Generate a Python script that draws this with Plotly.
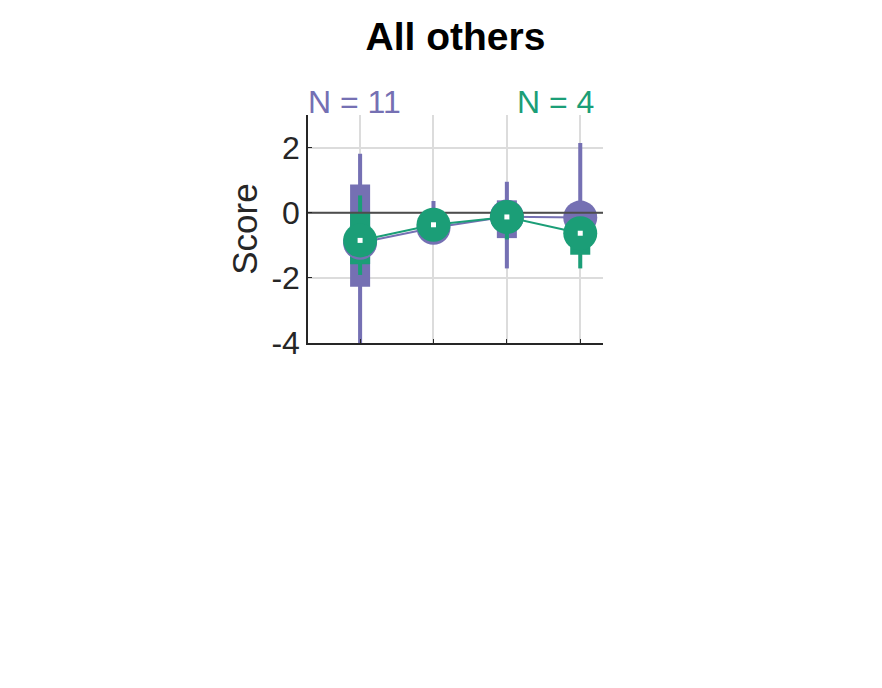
import plotly.graph_objects as go

# ---- data ----
positions = [1, 2, 3, 4]
purple_mean = [-0.92, -0.46, -0.12, -0.15]
purple_q1 = [-2.27, -0.75, -0.78, -0.70]
purple_q3 = [0.87, -0.15, 0.38, 0.20]
purple_lo = [-4.6, -0.90, -1.71, -1.20]
purple_hi = [1.81, 0.36, 0.95, 2.14]

green_mean = [-0.85, -0.37, -0.13, -0.63]
green_q1 = [-1.58, -0.60, -0.45, -1.29]
green_q3 = [0.00, -0.15, 0.15, -0.40]
green_lo = [-1.91, -0.75, -0.82, -1.71]
green_hi = [0.53, 0.05, 0.30, -0.20]

n_labels = ["N = 11", "N = 4"]
yticks = [-4, -2, 0, 2]
title_text = "All others"
ylabel = "Score"

PURPLE = "#7570b3"
GREEN = "#1b9e77"
FONT = "Liberation Sans, Arial, sans-serif"
XR = [0.29, 4.31]

BOX_W = 0.273
WHISK_W = 0.055


def bar(lo, hi, width, color):
    return go.Bar(
        x=positions,
        y=[h - l for l, h in zip(lo, hi)],
        base=lo,
        width=[width] * len(positions),
        marker=dict(color=color, line=dict(width=0)),
        showlegend=False,
        hoverinfo="skip",
    )


fig = go.Figure()
fig.add_trace(bar(purple_lo, purple_hi, WHISK_W, PURPLE))
fig.add_trace(bar(purple_q1, purple_q3, BOX_W, PURPLE))
fig.add_trace(bar(green_lo, green_hi, WHISK_W, GREEN))
fig.add_trace(bar(green_q1, green_q3, BOX_W, GREEN))

fig.add_trace(go.Scatter(
    x=positions, y=purple_mean, mode="lines+markers",
    line=dict(color=PURPLE, width=2),
    marker=dict(size=34, color=PURPLE, line=dict(width=0)),
    showlegend=False, hoverinfo="skip"))

fig.add_trace(go.Scatter(
    x=XR, y=[0, 0], mode="lines",
    line=dict(color="#4d4d4d", width=2),
    showlegend=False, hoverinfo="skip"))

fig.add_trace(go.Scatter(
    x=positions, y=green_mean, mode="lines+markers",
    line=dict(color=GREEN, width=2),
    marker=dict(size=34, color=GREEN, line=dict(width=0)),
    showlegend=False, hoverinfo="skip"))

fig.add_trace(go.Scatter(
    x=positions, y=green_mean, mode="markers",
    marker=dict(size=5, color="white", symbol="square", line=dict(width=0)),
    showlegend=False, hoverinfo="skip"))

fig.update_layout(
    width=882, height=688,
    margin=dict(l=300, r=287, t=107, b=353),
    paper_bgcolor="white", plot_bgcolor="white",
    barmode="overlay",
    font=dict(family=FONT, color="#262626"),
    title=dict(text="<b>" + title_text + "</b>", x=0.5, xref="paper",
               xanchor="center", y=1 - 28 / 688, yanchor="middle",
               font=dict(size=39, color="black", family=FONT)),
    xaxis=dict(range=XR, tickvals=positions, showticklabels=False,
               showgrid=True, gridcolor="#dcdcdc", gridwidth=1.5,
               zeroline=False, showline=True, linecolor="#262626",
               linewidth=1.5, ticks="inside", ticklen=4,
               tickcolor="#262626", fixedrange=True),
    yaxis=dict(range=[-4, 3], tickvals=yticks,
               ticktext=[str(v) for v in yticks],
               tickfont=dict(size=32, color="#262626", family=FONT),
               showgrid=True, gridcolor="#dcdcdc", gridwidth=1.5,
               zeroline=False, showline=True, linecolor="#262626",
               linewidth=1.5, ticks="inside", ticklen=4,
               tickcolor="#262626",
               title=dict(text=ylabel, standoff=3,
                          font=dict(size=35, color="#262626", family=FONT)),
               fixedrange=True),
)

fig.add_annotation(text=n_labels[0], xref="paper", yref="paper", x=0, y=1,
                   xanchor="left", yanchor="middle", yshift=13, xshift=-2,
                   showarrow=False, font=dict(size=32, color=PURPLE, family=FONT))
fig.add_annotation(text=n_labels[1], xref="paper", yref="paper", x=0.976, y=1,
                   xanchor="right", yanchor="middle", yshift=13,
                   showarrow=False, font=dict(size=32, color=GREEN, family=FONT))

fig.write_html("out.html")
